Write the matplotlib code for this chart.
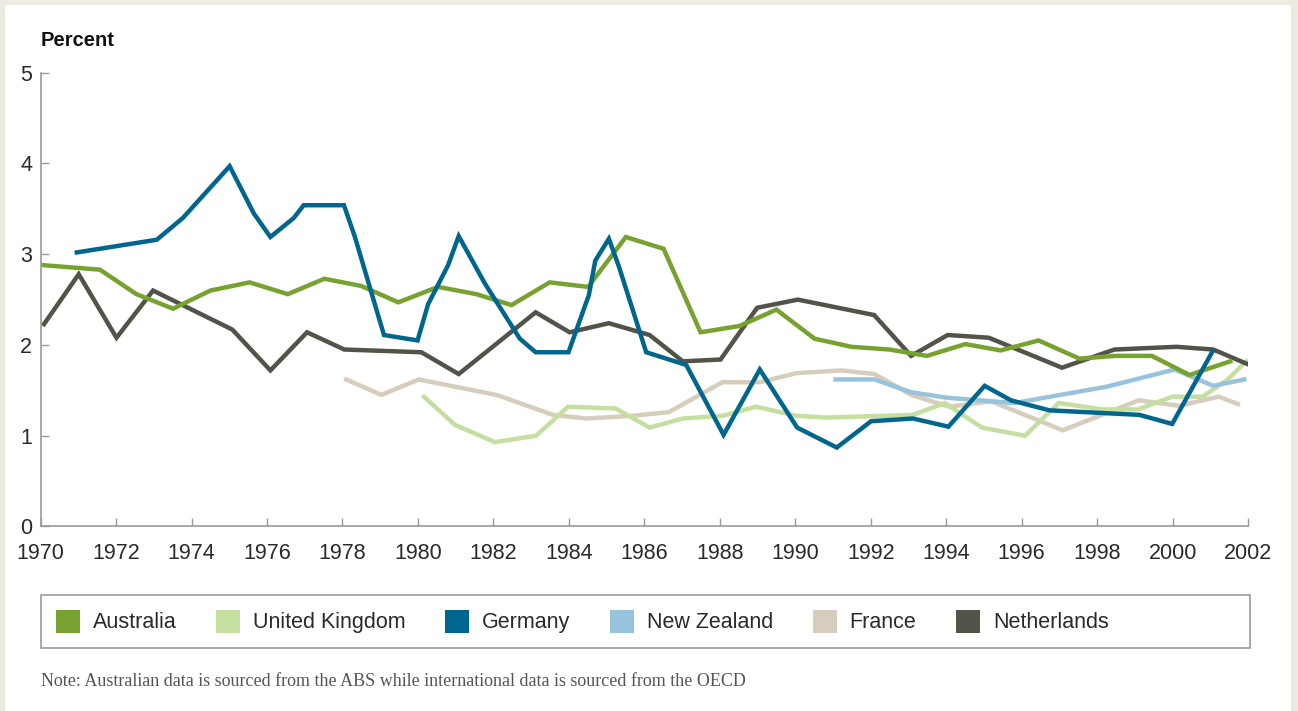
import matplotlib.pyplot as plt
from matplotlib.patches import Patch, Rectangle

plt.rcParams['font.family'] = ['Liberation Sans', 'DejaVu Sans']
plt.rcParams['lines.solid_joinstyle'] = 'miter'

# values (years can be fractional where the line bends mid-year)
aus_x = [1970.06, 1971.57, 1972.54, 1973.51, 1974.50, 1975.54, 1976.55, 1977.52, 1978.50, 1979.48,
         1980.53, 1981.55, 1982.48, 1983.49, 1984.51, 1985.51, 1986.51, 1987.49, 1988.53, 1989.50,
         1990.51, 1991.49, 1992.50, 1993.49, 1994.51, 1995.44, 1996.45, 1997.53, 1998.48, 1999.45,
         2000.45, 2001.53]
aus = [2.88, 2.83, 2.56, 2.40, 2.60, 2.69, 2.56, 2.73, 2.65, 2.47,
       2.64, 2.56, 2.44, 2.69, 2.64, 3.19, 3.06, 2.14, 2.21, 2.39,
       2.07, 1.98, 1.95, 1.88, 2.01, 1.94, 2.05, 1.85, 1.88, 1.88,
       1.67, 1.82]

uk_x = [1980.16, 1980.98, 1982.04, 1983.13, 1983.98, 1985.24, 1986.14, 1987.02, 1988.08, 1988.96,
        1990.03, 1990.82, 1993.12, 1993.96, 1994.95, 1996.09, 1996.98, 1998.15, 1999.08, 1999.99,
        2000.80, 2001.46, 2001.95]
uk = [1.43, 1.12, 0.93, 1.00, 1.32, 1.30, 1.09, 1.19, 1.22, 1.32,
      1.22, 1.20, 1.23, 1.36, 1.09, 1.00, 1.36, 1.29, 1.29, 1.43,
      1.43, 1.62, 1.82]

ger_x = [1970.96, 1973.08, 1973.77, 1975.01, 1975.65, 1976.09, 1976.71, 1976.97, 1978.04, 1978.33,
         1979.10, 1979.99, 1980.27, 1980.80, 1981.08, 1981.77, 1982.70, 1983.12, 1983.99, 1984.53,
         1984.70, 1985.06, 1985.33, 1986.05, 1987.11, 1988.10, 1989.06, 1990.05, 1991.10, 1992.01,
         1993.12, 1994.06, 1995.02, 1995.72, 1996.74, 1999.12, 1999.99, 2001.06]
ger = [3.02, 3.16, 3.40, 3.97, 3.45, 3.19, 3.40, 3.54, 3.54, 3.19,
       2.11, 2.05, 2.45, 2.88, 3.20, 2.68, 2.07, 1.92, 1.92, 2.55,
       2.93, 3.17, 2.86, 1.92, 1.78, 1.01, 1.73, 1.09, 0.87, 1.16,
       1.19, 1.10, 1.55, 1.39, 1.28, 1.23, 1.13, 1.93]

nz_x = [1991.07, 1992.10, 1993.07, 1994.00, 1995.80, 1998.25, 2000.05, 2001.08, 2001.90]
nz = [1.62, 1.62, 1.48, 1.42, 1.36, 1.54, 1.73, 1.55, 1.62]

fra_x = [1978.10, 1979.03, 1980.02, 1982.08, 1983.58, 1984.46, 1985.70, 1986.65, 1988.07, 1989.06,
         1990.03, 1991.22, 1992.10, 1993.07, 1994.08, 1995.19, 1997.09, 1999.10, 2000.18, 2001.22,
         2001.73]
fra = [1.62, 1.45, 1.62, 1.45, 1.23, 1.19, 1.22, 1.26, 1.59, 1.59,
       1.69, 1.72, 1.68, 1.45, 1.32, 1.38, 1.06, 1.39, 1.33, 1.43,
       1.35]

nld_x = [1970.09, 1971.01, 1972.01, 1972.98, 1975.08, 1976.09, 1977.06, 1978.05, 1980.09, 1981.08,
         1983.12, 1984.02, 1985.06, 1986.14, 1987.02, 1988.02, 1988.99, 1990.07, 1992.09, 1993.07,
         1994.04, 1995.13, 1997.07, 1998.46, 2000.10, 2001.08, 2002.04]
nld = [2.23, 2.78, 2.08, 2.60, 2.17, 1.72, 2.14, 1.95, 1.92, 1.68,
       2.36, 2.14, 2.24, 2.11, 1.82, 1.84, 2.41, 2.50, 2.33, 1.88,
       2.11, 2.08, 1.75, 1.95, 1.98, 1.95, 1.78]

names = ['Australia', 'United Kingdom', 'Germany', 'New Zealand', 'France', 'Netherlands']
colors = ['#78A22F', '#C4DFA0', '#00668E', '#98C3DC', '#D6CDBC', '#535349']

fig = plt.figure(figsize=(12.98, 7.11), dpi=100, facecolor='#EDEAE2')
fig.patches.append(Rectangle((5 / 1298, 0), 1286 / 1298, 706 / 711, transform=fig.transFigure,
                             facecolor='white', edgecolor='none', zorder=-10))

ax = fig.add_axes([0.0313, 0.2595, 0.9302, 0.6382])
ax.set_facecolor('none')

lw = 3.2
ax.plot(fra_x, fra, color=colors[4], lw=lw)
ax.plot(uk_x, uk, color=colors[1], lw=lw)
ax.plot(nz_x, nz, color=colors[3], lw=lw)
ax.plot(nld_x, nld, color=colors[5], lw=lw)
ax.plot(aus_x, aus, color=colors[0], lw=lw)
ax.plot(ger_x, ger, color=colors[2], lw=lw)

ax.set_xlim(1970, 2002)
ax.set_ylim(0, 5)
ax.set_xticks(range(1970, 2003, 2))
ax.set_yticks(range(0, 6))
for s in ['top', 'right']:
    ax.spines[s].set_visible(False)
for s in ['left', 'bottom']:
    ax.spines[s].set_color('#9A9A9A')
    ax.spines[s].set_linewidth(1.2)
ax.tick_params(axis='both', direction='in', length=5.5, width=1, color='#9A9A9A',
               labelsize=15.5, labelcolor='#2A2A2A')
ax.tick_params(axis='x', pad=12)
ax.tick_params(axis='y', pad=6)

fig.text(41 / 1298, (711 - 46) / 711, 'Percent', fontsize=14.5, fontweight='bold',
         color='#111111', va='baseline', ha='left')

# legend box
fig.patches.append(Rectangle((41 / 1298, (711 - 648) / 711), 1209 / 1298, 53 / 711,
                             transform=fig.transFigure, facecolor='none',
                             edgecolor='#9A9A9A', linewidth=1.2))
handles = [Patch(facecolor=c, edgecolor='none', label=n) for n, c in zip(names, colors)]
fig.legend(handles=handles, loc='center left', bbox_to_anchor=(56 / 1298, (711 - 621.5) / 711),
           ncol=6, frameon=False, fontsize=15.5, borderpad=0, borderaxespad=0,
           handlelength=1.12, handleheight=1.3, handletextpad=0.6, columnspacing=1.83,
           labelcolor='#2A2A2A')

fig.text(41 / 1298, (711 - 686) / 711,
         'Note: Australian data is sourced from the ABS while international data is sourced from the OECD',
         fontsize=13, family=['Liberation Serif', 'DejaVu Serif'], color='#555555',
         va='baseline', ha='left')

fig.savefig('out.png', dpi=100, facecolor=fig.get_facecolor())
